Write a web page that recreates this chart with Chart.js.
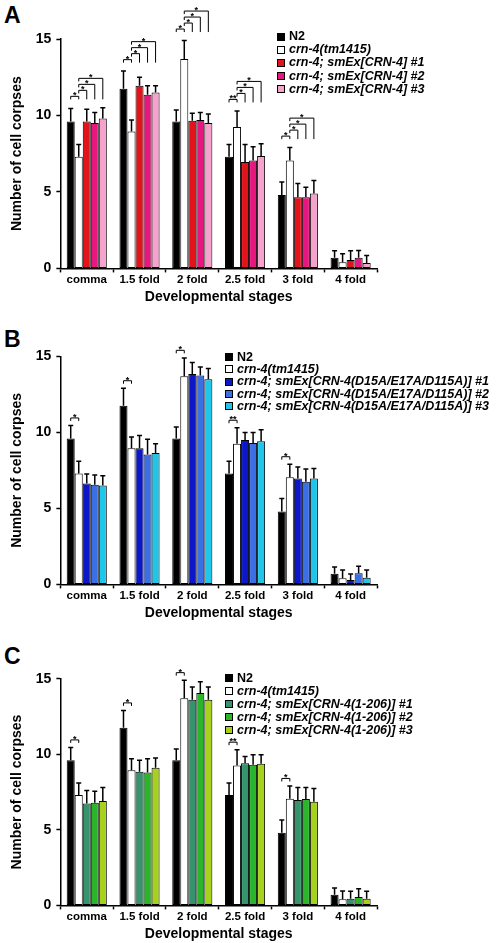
<!DOCTYPE html>
<html>
<head>
<meta charset="utf-8">
<script src="https://cdn.jsdelivr.net/npm/chart.js@4.4.0/dist/chart.umd.min.js"></script>
<style>
  body { margin: 0; background: #fff; width: 500px; height: 943px; overflow: hidden; position: relative;
         font-family: "Liberation Sans", Arial, sans-serif; }
  .panel { position: absolute; left: 0; width: 500px; }
  .letter { position: absolute; left: 4px; font-weight: bold; font-size: 23px; line-height: 23px; }
  .legend { position: absolute; font-weight: bold; font-size: 12.5px; white-space: nowrap; }
  .legend div { position: relative; padding-left: 12px; }
  .legend span.box { position: absolute; left: 0; width: 6px; height: 6px; border: 1px solid #000; }
</style>
</head>
<body>

<div class="letter" style="top:4px">A</div>
<div class="letter" style="top:328px">B</div>
<div class="letter" style="top:645px">C</div>

<div class="panel" style="top:0px;height:306px"><canvas id="chartA"></canvas></div>
<div class="panel" style="top:316px;height:306px"><canvas id="chartB"></canvas></div>
<div class="panel" style="top:638px;height:305px"><canvas id="chartC"></canvas></div>

<div class="legend" id="legendA" style="left:277px;top:30px;line-height:13.2px"></div>
<div class="legend" id="legendB" style="left:225px;top:350.5px;line-height:12.4px"></div>
<div class="legend" id="legendC" style="left:225px;top:671.5px;line-height:13px"></div>

<script>
// categories
const stages = ['comma', '1.5 fold', '2 fold', '2.5 fold', '3 fold', '4 fold'];

// controls, same in all panels
const n2 = [9.6, 11.75, 9.6, 7.3, 4.8, 0.7];
const n2Err = [0.85, 1.15, 0.75, 0.8, 0.85, 0.45];
const tm1415 = [7.3, 8.95, 13.7, 9.25, 7.05, 0.4];
const tm1415Err = [0.8, 0.75, 1.2, 1.05, 0.85, 0.55];

// panel A: smEx[CRN-4]
const a1 = [9.6, 11.95, 9.65, 6.95, 4.65, 0.55];
const a1Err = [0.8, 0.55, 0.5, 1.15, 0.9, 0.6];
const a2 = [9.5, 11.35, 9.7, 7.05, 4.65, 0.7];
const a2Err = [0.7, 0.6, 0.5, 0.9, 0.65, 0.47];
const a3 = [9.8, 11.5, 9.5, 7.35, 4.9, 0.35];
const a3Err = [0.7, 0.45, 0.6, 0.8, 0.85, 0.5];

// panel B: smEx[CRN-4(D15A/E17A/D115A)]
const b1 = [6.64, 8.95, 13.85, 9.5, 6.97, 0.29];
const b1Err = [0.62, 0.85, 0.75, 0.5, 0.75, 0.4];
const b2 = [6.55, 8.55, 13.75, 9.3, 6.75, 0.73];
const b2Err = [0.65, 1.0, 0.55, 0.7, 0.85, 0.47];
const b3 = [6.5, 8.65, 13.5, 9.42, 6.97, 0.44];
const b3Err = [0.65, 0.6, 0.7, 0.75, 0.65, 0.5];

// panel C: smEx[CRN-4(1-206)]
const c1 = [6.75, 8.85, 13.6, 9.4, 6.98, 0.44];
const c1Err = [0.85, 0.75, 0.85, 0.45, 0.82, 0.5];
const c2 = [6.8, 8.8, 14.05, 9.3, 7.04, 0.55];
const c2Err = [0.75, 0.9, 0.75, 0.67, 0.76, 0.55];
const c3 = [6.9, 9.1, 13.6, 9.37, 6.86, 0.44];
const c3Err = [0.9, 0.65, 0.85, 0.6, 0.87, 0.5];

// significance labels for N2 vs crn-4(tm1415), per stage
const sigN2 = ['*', '*', '*', '**', '*', ''];

const yTicks = [0, 5, 10, 15];

// draws the upper error bars
const errorBars = {
  id: 'errorBars',
  afterDatasetsDraw(chart) {
    const ctx = chart.ctx;
    const y = chart.scales.y;
    ctx.save();
    ctx.strokeStyle = '#000';
    ctx.lineWidth = 1.5;
    chart.data.datasets.forEach((ds, i) => {
      chart.getDatasetMeta(i).data.forEach((bar, j) => {
        const top = y.getPixelForValue(ds.data[j] + ds.errors[j]);
        ctx.beginPath();
        ctx.moveTo(bar.x, bar.y);
        ctx.lineTo(bar.x, top);
        ctx.moveTo(bar.x - 2.5, top);
        ctx.lineTo(bar.x + 2.5, top);
        ctx.stroke();
      });
    });
    ctx.restore();
  }
};

// significance brackets over the bars
const sigBrackets = {
  id: 'sigBrackets',
  afterDraw(chart, args, opts) {
    const ctx = chart.ctx;
    const y = chart.scales.y;
    const ds = chart.data.datasets;
    ctx.save();
    ctx.strokeStyle = '#000';
    ctx.fillStyle = '#000';
    ctx.lineWidth = 1;
    ctx.font = 'bold 9px "Liberation Sans", Arial';
    ctx.textAlign = 'center';
    ctx.textBaseline = 'bottom';
    stages.forEach((s, c) => {
      if (!sigN2[c]) return;
      const pairs = opts.rescue ? [[0, 1, sigN2[c]], [1, 2, '*'], [1, 3, '*'], [1, 4, '*']]
                                : [[0, 1, sigN2[c]]];
      let maxTop = 0;
      const upto = opts.rescue ? ds.length : 2;
      for (let k = 0; k < upto; k++) maxTop = Math.max(maxTop, ds[k].data[c] + ds[k].errors[c]);
      const baseY = y.getPixelForValue(maxTop + opts.gap);
      pairs.forEach((p, lvl) => {
        const x1 = chart.getDatasetMeta(p[0]).data[c].x;
        const x2 = chart.getDatasetMeta(p[1]).data[c].x;
        const ly = baseY - lvl * 6;
        ctx.beginPath();
        ctx.moveTo(x1, ly + 3);
        ctx.lineTo(x1, ly);
        ctx.lineTo(x2, ly);
        ctx.lineTo(x2, lvl ? baseY + 3 : ly + 3);
        ctx.stroke();
        ctx.fillText(p[2], (x1 + x2) / 2, ly + 4);
      });
    });
    ctx.restore();
  }
};

function makeChart(id, names, colors, values, errors, padTop, rescue) {
  return new Chart(document.getElementById(id), {
    type: 'bar',
    data: {
      labels: stages,
      datasets: names.map((n, i) => ({
        label: n,
        data: values[i],
        errors: errors[i],
        backgroundColor: colors[i],
        borderColor: '#000',
        borderWidth: 1,
        borderSkipped: false,
        categoryPercentage: 0.76,
        barPercentage: 1
      }))
    },
    options: {
      responsive: true,
      maintainAspectRatio: false,
      animation: false,
      layout: { padding: { top: padTop, right: 123, left: 3, bottom: 0 } },
      plugins: {
        legend: { display: false },
        tooltip: { enabled: false },
        sigBrackets: { rescue: rescue, gap: rescue ? 0.75 : 0.5 }
      },
      scales: {
        x: {
          grid: { display: true, drawOnChartArea: false, color: '#000', tickLength: 4, tickWidth: 1.5 },
          border: { color: '#000', width: 1.5 },
          ticks: { color: '#000', padding: 1, font: { family: 'Liberation Sans', weight: 'bold', size: 11.5 } },
          title: { display: true, text: 'Developmental stages', color: '#000', padding: { top: 1, bottom: 0 },
                   font: { family: 'Liberation Sans', weight: 'bold', size: 14 } }
        },
        y: {
          min: 0, max: 15,
          afterBuildTicks: axis => { axis.ticks = yTicks.map(v => ({ value: v })); },
          grid: { display: true, drawOnChartArea: false, color: '#000', tickLength: 4, tickWidth: 1.5 },
          border: { color: '#000', width: 1.5 },
          ticks: { color: '#000', padding: 5, font: { family: 'Liberation Sans', weight: 'bold', size: 14 } },
          title: { display: true, text: 'Number of cell corpses', color: '#000', padding: { top: 6, bottom: 5 },
                   font: { family: 'Liberation Sans', weight: 'bold', size: 14 } }
        }
      }
    },
    plugins: [errorBars, sigBrackets]
  });
}

function makeLegend(id, names, colors) {
  const el = document.getElementById(id);
  names.forEach((n, i) => {
    const row = document.createElement('div');
    const box = document.createElement('span');
    box.className = 'box';
    box.style.background = colors[i];
    box.style.top = 'calc(50% - 4px)';
    row.appendChild(box);
    const t = document.createElement('span');
    t.textContent = n;
    if (i > 0) t.style.fontStyle = 'italic';
    row.appendChild(t);
    el.appendChild(row);
  });
}

const namesA = ['N2', 'crn-4(tm1415)', 'crn-4; smEx[CRN-4] #1', 'crn-4; smEx[CRN-4] #2', 'crn-4; smEx[CRN-4] #3'];
const namesB = ['N2', 'crn-4(tm1415)', 'crn-4; smEx[CRN-4(D15A/E17A/D115A)] #1',
                'crn-4; smEx[CRN-4(D15A/E17A/D115A)] #2', 'crn-4; smEx[CRN-4(D15A/E17A/D115A)] #3'];
const namesC = ['N2', 'crn-4(tm1415)', 'crn-4; smEx[CRN-4(1-206)] #1', 'crn-4; smEx[CRN-4(1-206)] #2',
                'crn-4; smEx[CRN-4(1-206)] #3'];
const colorsA = ['#000000', '#ffffff', '#e3131b', '#e8177f', '#f5a3cc'];
const colorsB = ['#000000', '#ffffff', '#0b17c9', '#3b6fe6', '#1fc6ea'];
const colorsC = ['#000000', '#ffffff', '#35946b', '#2bb52b', '#a6d11c'];

makeChart('chartA', namesA, colorsA, [n2, tm1415, a1, a2, a3], [n2Err, tm1415Err, a1Err, a2Err, a3Err], 39, true);
makeChart('chartB', namesB, colorsB, [n2, tm1415, b1, b2, b3], [n2Err, tm1415Err, b1Err, b2Err, b3Err], 40.4, false);
makeChart('chartC', namesC, colorsC, [n2, tm1415, c1, c2, c3], [n2Err, tm1415Err, c1Err, c2Err, c3Err], 40.7, false);

makeLegend('legendA', namesA, colorsA);
makeLegend('legendB', namesB, colorsB);
makeLegend('legendC', namesC, colorsC);
</script>
</body>
</html>
